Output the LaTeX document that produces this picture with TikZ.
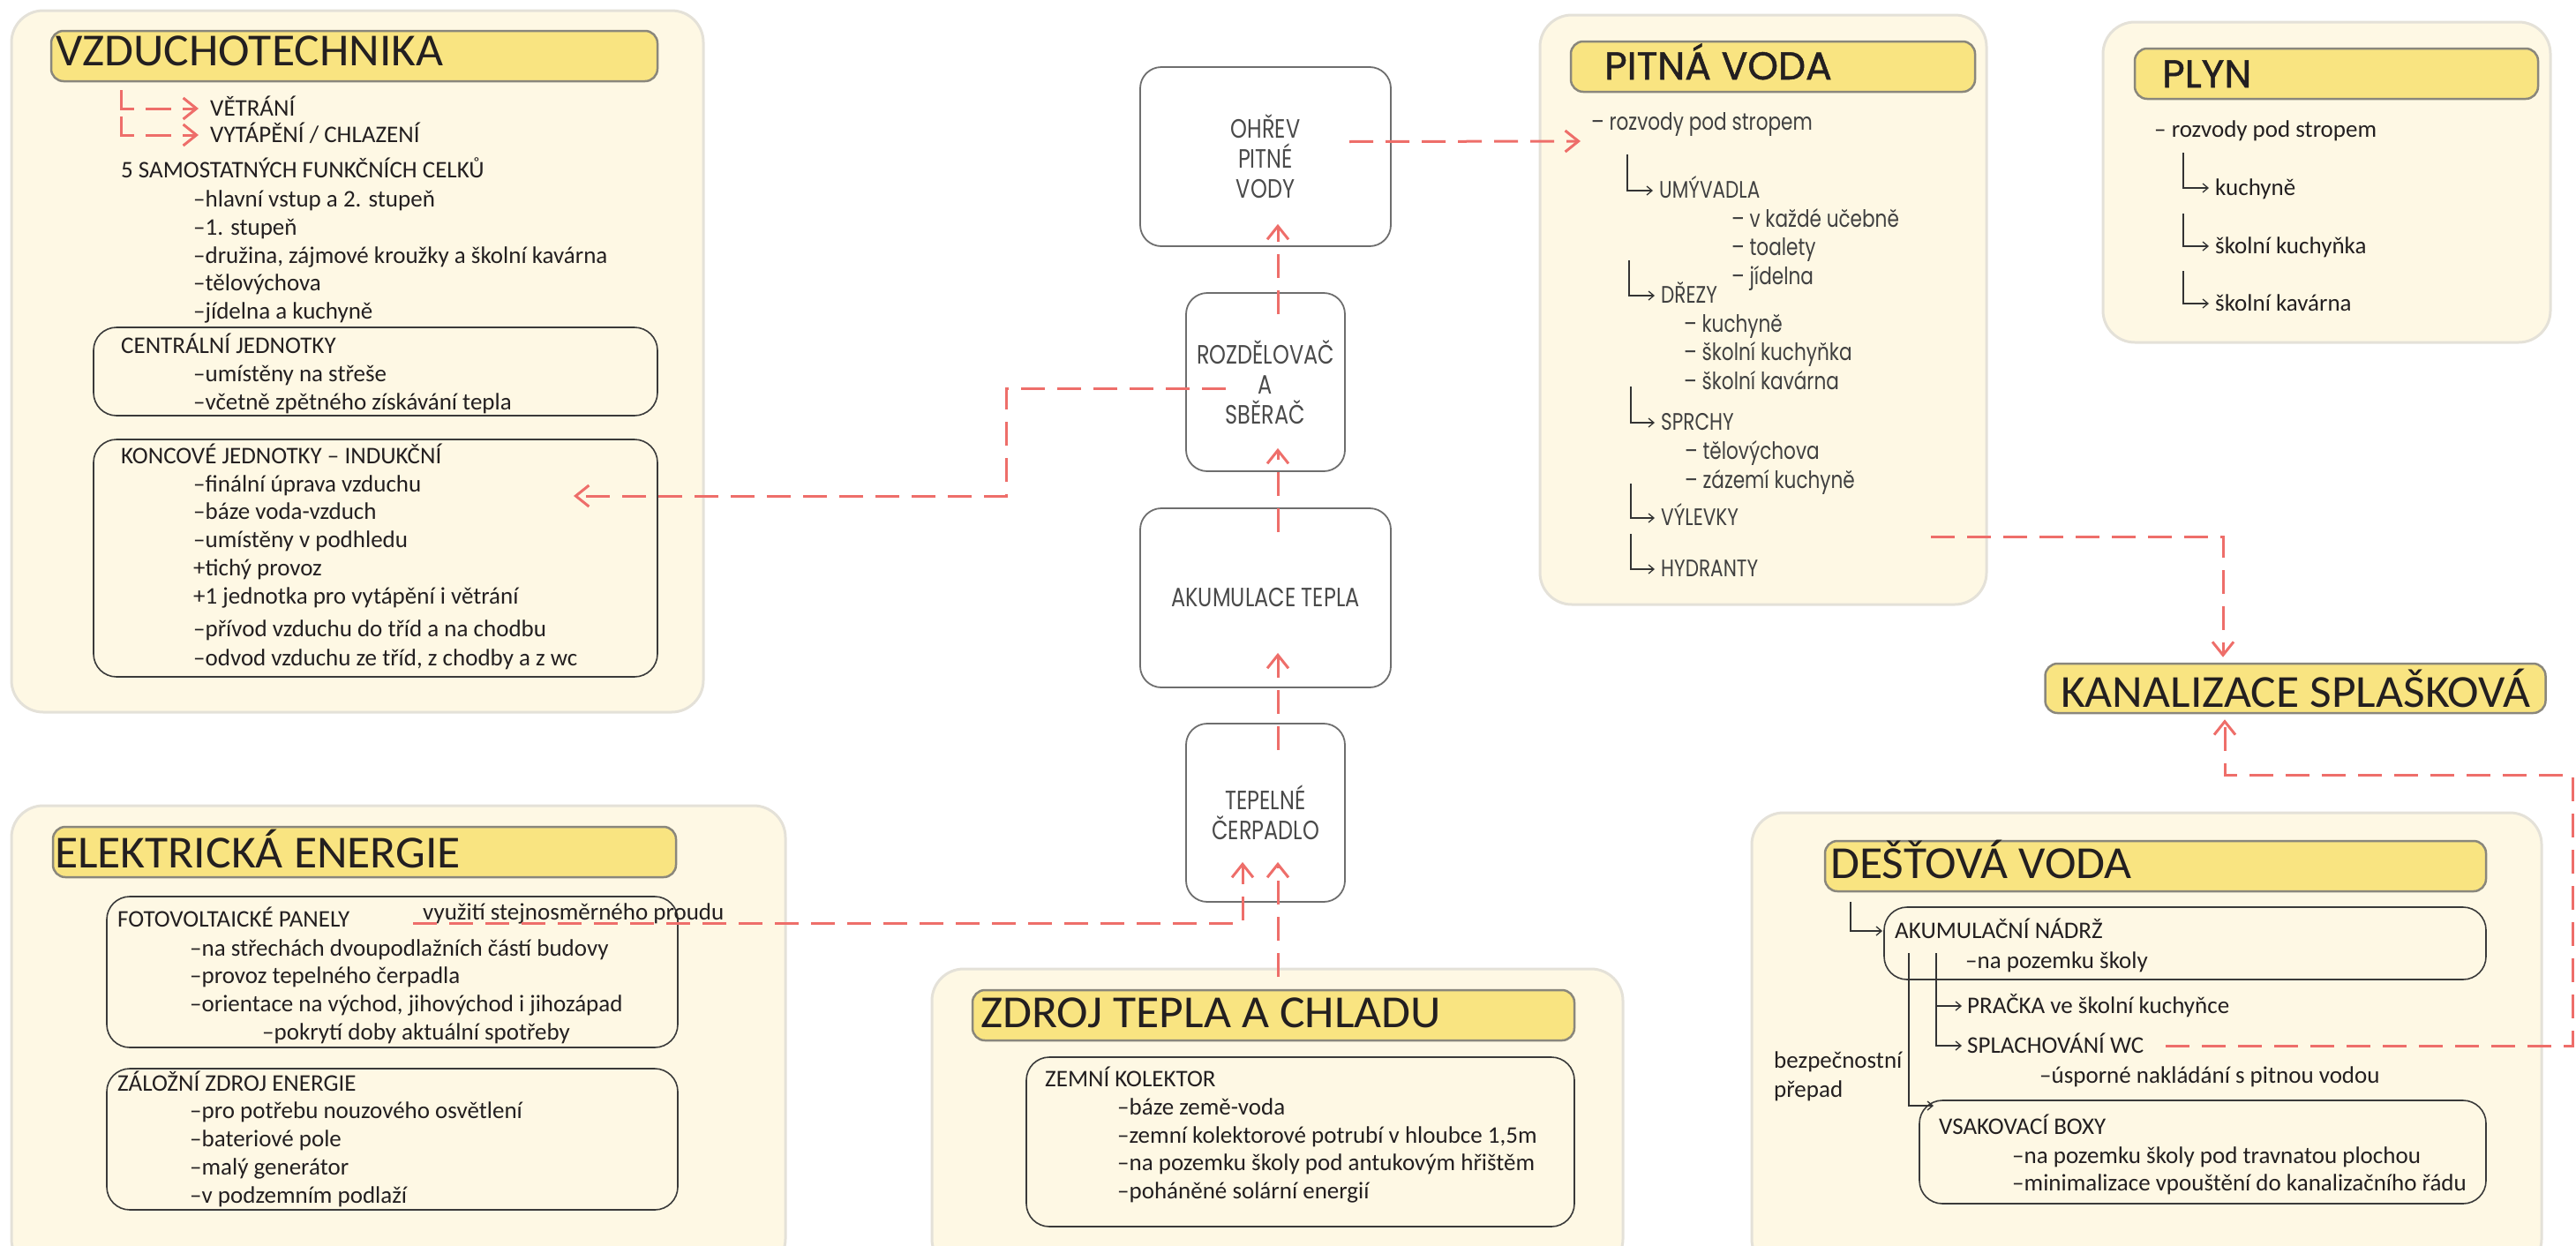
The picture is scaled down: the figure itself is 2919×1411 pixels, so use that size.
\documentclass[tikz,border=0pt]{standalone}
\usepackage{fontspec}
\setmainfont{Carlito}
\newfontfamily\headfont[FakeStretch=1.03]{Carlito}
\newfontfamily\roundfont[FakeBold=1.2]{Poppins}
\newfontfamily\roundnarrow[FakeStretch=0.8]{Poppins}
\usetikzlibrary{arrows.meta}

\definecolor{panelfill}{RGB}{254,248,228}
\definecolor{panelline}{RGB}{228,225,216}
\definecolor{headfill}{RGB}{249,228,129}
\definecolor{headline}{RGB}{138,135,124}
\definecolor{boxline}{RGB}{58,58,58}
\definecolor{unitline}{RGB}{110,110,110}
\definecolor{unittext}{RGB}{74,74,74}
\definecolor{textcol}{RGB}{35,31,32}
\definecolor{ptext}{RGB}{64,64,64}
\definecolor{flowred}{RGB}{238,110,106}
\definecolor{hookline}{RGB}{51,51,51}

\begin{document}
\begin{tikzpicture}[x=1pt,y=-1pt,
    panel/.style={draw=panelline,line width=3pt,fill=panelfill,rounded corners=36pt},
    headbar/.style={draw=headline,line width=2.5pt,fill=headfill,rounded corners=14pt},
    subbox/.style={draw=boxline,line width=1.6pt,rounded corners=26pt},
    unitbox/.style={draw=unitline,line width=1.8pt,rounded corners=24pt,align=center,text=unittext,font=\roundnarrow\fontsize{30}{34}\selectfont},
    txt/.style={anchor=west,inner sep=0pt,text height=17pt,text depth=0pt,text=textcol,font=\fontsize{27}{32}\selectfont},
    ptxt/.style={txt,text=ptext,font=\roundnarrow\fontsize{27}{32}\selectfont},
    headtxt/.style={anchor=base west,inner sep=0pt,text=textcol,font=\headfont\fontsize{52}{54}\selectfont},
    pheadtxt/.style={headtxt,font=\roundfont\fontsize{44}{48}\selectfont},
    flow/.style={draw=flowred,line width=3pt,dash pattern=on 27pt off 14pt,-{Straight Barb[length=15pt,width=24pt]}},
    hook/.style={draw=hookline,line width=1.3pt,shorten >=7pt,-{Straight Barb[length=6pt,width=10pt]}}]

    \useasboundingbox (0,0) rectangle (2919,1411);
    \clip (0,0) rectangle (2919,1411);

    \draw[panel] (13,12) rectangle (797,807);
    \draw[panel] (13,913) rectangle (890,1440);
    \draw[panel] (1056,1098) rectangle (1839,1440);
    \draw[panel] (1745,17) rectangle (2251,685);
    \draw[panel] (2383,25) rectangle (2890,388);
    \draw[panel] (1985,921) rectangle (2880,1440);

    \draw[headbar] (58,35) rectangle (745,92);
    \draw[headbar] (60,937) rectangle (766,994);
    \draw[headbar] (1102,1122) rectangle (1784,1179);
    \draw[headbar] (1780,47) rectangle (2238,104);
    \draw[headbar] (2419,55) rectangle (2876,112);
    \draw[headbar] (2068,953) rectangle (2817,1010);

    \draw[subbox] (106,371) rectangle (745,471);
    \draw[subbox] (106,498) rectangle (745,767);
    \draw[subbox] (121,1016) rectangle (768,1187);
    \draw[subbox] (121,1211) rectangle (768,1371);
    \draw[subbox] (1163,1198) rectangle (1784,1390);
    \draw[subbox] (2135,1028) rectangle (2817,1110);
    \draw[subbox] (2175,1247) rectangle (2817,1364);

    \node[headtxt] at (63,74) (vzt) {VZDUCHOTECHNIKA};
    \node[txt] at (238,123) (vetr) {VĚTRÁNÍ};
    \node[txt] at (238,153) (vyt) {VYTÁPĚNÍ / CHLAZENÍ};
    \node[txt] at (137,193) (celky) {5 SAMOSTATNÝCH FUNKČNÍCH CELKŮ};
    \node[txt] at (219,226) (celky1) {–hlavní vstup a 2. stupeň};
    \node[txt] at (219,258) (celky2) {–1. stupeň};
    \node[txt] at (219,290) (celky3) {–družina, zájmové kroužky a školní kavárna};
    \node[txt] at (219,321) (celky4) {–tělovýchova};
    \node[txt] at (219,353) (celky5) {–jídelna a kuchyně};
    \node[txt] at (137,392) (cj) {CENTRÁLNÍ JEDNOTKY};
    \node[txt] at (219,424) (cj1) {–umístěny na střeše};
    \node[txt] at (219,456) (cj2) {–včetně zpětného získávání tepla};
    \node[txt] at (137,517) (kj) {KONCOVÉ JEDNOTKY – INDUKČNÍ};
    \node[txt] at (219,549) (kj1) {–finální úprava vzduchu};
    \node[txt] at (219,580) (kj2) {–báze voda-vzduch};
    \node[txt] at (219,612) (kj3) {–umístěny v podhledu};
    \node[txt] at (219,644) (kj4) {+tichý provoz};
    \node[txt] at (219,676) (kj5) {+1 jednotka pro vytápění i větrání};
    \node[txt] at (219,713) (kj6) {–přívod vzduchu do tříd a na chodbu};
    \node[txt] at (219,746) (kj7) {–odvod vzduchu ze tříd, z chodby a z wc};

    \node[headtxt] at (62,983) (ee) {ELEKTRICKÁ ENERGIE};
    \node[txt] at (133,1042) (fv) {FOTOVOLTAICKÉ PANELY};
    \node[txt] at (215,1075) (fv1) {–na střechách dvoupodlažních částí budovy};
    \node[txt] at (215,1106) (fv2) {–provoz tepelného čerpadla};
    \node[txt] at (215,1138) (fv3) {–orientace na východ, jihovýchod i jihozápad};
    \node[txt] at (297,1170) (fv4) {–pokrytí doby aktuální spotřeby};
    \node[txt] at (479,1034) (fvNote) {využití stejnosměrného proudu};
    \node[txt] at (133,1228) (zz) {ZÁLOŽNÍ ZDROJ ENERGIE};
    \node[txt] at (215,1259) (zz1) {–pro potřebu nouzového osvětlení};
    \node[txt] at (215,1291) (zz2) {–bateriové pole};
    \node[txt] at (215,1323) (zz3) {–malý generátor};
    \node[txt] at (215,1355) (zz4) {–v podzemním podlaží};

    \node[headtxt] at (1111,1164) (ztch) {ZDROJ TEPLA A CHLADU};
    \node[txt] at (1184,1223) (zk) {ZEMNÍ KOLEKTOR};
    \node[txt] at (1266,1255) (zk1) {–báze země-voda};
    \node[txt] at (1266,1287) (zk2) {–zemní kolektorové potrubí v hloubce 1,5m};
    \node[txt] at (1266,1318) (zk3) {–na pozemku školy pod antukovým hřištěm};
    \node[txt] at (1266,1350) (zk4) {–poháněné solární energií};

    \node[pheadtxt] at (1818,90) (pv) {PITNÁ VODA};
    \node[ptxt] at (1803,139) (pvRoz) {– rozvody pod stropem};
    \node[ptxt] at (1880,216) (umyv) {UMÝVADLA};
    \node[ptxt] at (1962,249) (umyv1) {– v každé učebně};
    \node[ptxt] at (1962,281) (umyv2) {– toalety};
    \node[ptxt] at (1962,314) (umyv3) {– jídelna};
    \node[ptxt] at (1882,335) (drez) {DŘEZY};
    \node[ptxt] at (1908,368) (drez1) {– kuchyně};
    \node[ptxt] at (1908,400) (drez2) {– školní kuchyňka};
    \node[ptxt] at (1908,433) (drez3) {– školní kavárna};
    \node[ptxt] at (1882,479) (sprch) {SPRCHY};
    \node[ptxt] at (1909,512) (sprch1) {– tělovýchova};
    \node[ptxt] at (1909,545) (sprch2) {– zázemí kuchyně};
    \node[ptxt] at (1882,587) (vyl) {VÝLEVKY};
    \node[ptxt] at (1882,645) (hydr) {HYDRANTY};

    \node[pheadtxt] at (2450,99) (plyn) {PLYN};
    \node[txt] at (2441,147) (plRoz) {– rozvody pod stropem};
    \node[txt] at (2510,213) (plKuch) {kuchyně};
    \node[txt] at (2510,279) (plSk) {školní kuchyňka};
    \node[txt] at (2510,344) (plKav) {školní kavárna};

    \node[headbar,text=textcol,font=\headfont\fontsize{52}{54}\selectfont,inner sep=3pt,minimum width=567pt,minimum height=56pt] at (2601,780) (kan) {KANALIZACE SPLAŠKOVÁ};

    \node[headtxt] at (2074,995) (dv) {DEŠŤOVÁ VODA};
    \node[txt] at (2147,1055) (nadrzT) {AKUMULAČNÍ NÁDRŽ};
    \node[txt] at (2227,1089) (nadrz1) {–na pozemku školy};
    \node[txt] at (2229,1140) (pracka) {PRAČKA ve školní kuchyňce};
    \node[txt] at (2229,1185) (splach) {SPLACHOVÁNÍ WC};
    \node[txt] at (2311,1219) (splach1) {–úsporné nakládání s pitnou vodou};
    \node[txt] at (2010,1202) (prepad1) {bezpečnostní};
    \node[txt] at (2010,1235) (prepad2) {přepad};
    \node[txt] at (2197,1277) (vsakT) {VSAKOVACÍ BOXY};
    \node[txt] at (2280,1310) (vsak1) {–na pozemku školy pod travnatou plochou};
    \node[txt] at (2280,1341) (vsak2) {–minimalizace vpouštění do kanalizačního řádu};

    \node[unitbox,minimum width=284pt,minimum height=203pt] at (1434,177.5) (ohrev) {OHŘEV\\PITNÉ\\VODY};
    \node[unitbox,minimum width=180pt,minimum height=202pt] at (1434,433) (rozd) {ROZDĚLOVAČ\\A\\SBĚRAČ};
    \node[unitbox,minimum width=284pt,minimum height=203pt] at (1434,677.5) (akum) {AKUMULACE TEPLA};
    \node[unitbox,minimum width=180pt,minimum height=202pt] at (1434,921) (tc) {TEPELNÉ\\ČERPADLO};

    \coordinate (pvIn) at (1791,160);
    \coordinate (kjBend) at (1140,562);
    \coordinate (kjIn) at (650,562);
    \coordinate (ztOut) at (1448,1107);
    \coordinate (vyOut) at (2188,608);
    \coordinate (kanBend) at (2915,878);
    \coordinate (vsakIn) at ([xshift=-6pt,yshift=24pt]vsakT.west);

    \draw[flow,dash pattern=on 36pt off 13pt on 29pt off 13pt,shorten >=13pt] ([xshift=-101pt,yshift=21pt]vetr.west) |- (vetr.west);
    \draw[flow,dash pattern=on 36pt off 13pt on 29pt off 13pt,shorten >=13pt] ([xshift=-101pt,yshift=21pt]vyt.west) |- (vyt.west);

    \draw[hook] ([xshift=-36pt,yshift=41pt]umyv.west) |- (umyv.west);
    \draw[hook] ([xshift=-36pt,yshift=40pt]drez.west) |- (drez.west);
    \draw[hook] ([xshift=-34pt,yshift=41pt]sprch.west) |- (sprch.west);
    \draw[hook] ([xshift=-34pt,yshift=39pt]vyl.west) |- (vyl.west);
    \draw[hook] ([xshift=-34pt,yshift=40pt]hydr.west) |- (hydr.west);
    \draw[hook] ([xshift=-36pt,yshift=40pt]plKuch.west) |- (plKuch.west);
    \draw[hook] ([xshift=-36pt,yshift=37pt]plSk.west) |- (plSk.west);
    \draw[hook] ([xshift=-36pt,yshift=37pt]plKav.west) |- (plKav.west);

    \draw[hook,shorten >=14pt] ([xshift=-50pt,yshift=33pt]nadrzT.west) |- (nadrzT.west);
    \draw[hook,shorten >=6pt] ([xshift=-35pt,yshift=60pt]pracka.west) |- (pracka.west);
    \draw[hook,shorten >=6pt] ([xshift=-35pt,yshift=105pt]splach.west) |- (splach.west);
    \draw[hook,shorten >=0pt] ([xshift=-66pt,yshift=60pt]pracka.west) |- (vsakIn);

    \draw[flow] ([xshift=14pt,yshift=-25pt]rozd.north) -- ([xshift=14pt,yshift=26pt]ohrev.south);
    \draw[flow] ([xshift=14pt,yshift=-28pt]akum.north) -- ([xshift=14pt,yshift=27pt]rozd.south);
    \draw[flow] ([xshift=14pt,yshift=-31pt]tc.north) -- ([xshift=14pt,yshift=40pt]akum.south);
    \draw[flow] ([xshift=95pt,yshift=17pt]ohrev.center) -- (pvIn);
    \draw[flow] ([xshift=-45pt,yshift=-7pt]rozd.center) -| (kjBend) -- (kjIn);
    \draw[flow] ([xshift=-11pt,yshift=-12pt]fvNote.west) -| ([xshift=-26pt,yshift=46pt]tc.south);
    \draw[flow] (ztOut) -- ([xshift=14pt,yshift=46pt]tc.south);
    \draw[flow] (vyOut) -| ([xshift=-82pt,yshift=6pt]kan.north);
    \draw[flow] ([xshift=25pt]splach.east) -| (kanBend) -| ([xshift=-80pt,yshift=-6pt]kan.south);
\end{tikzpicture}
\end{document}
